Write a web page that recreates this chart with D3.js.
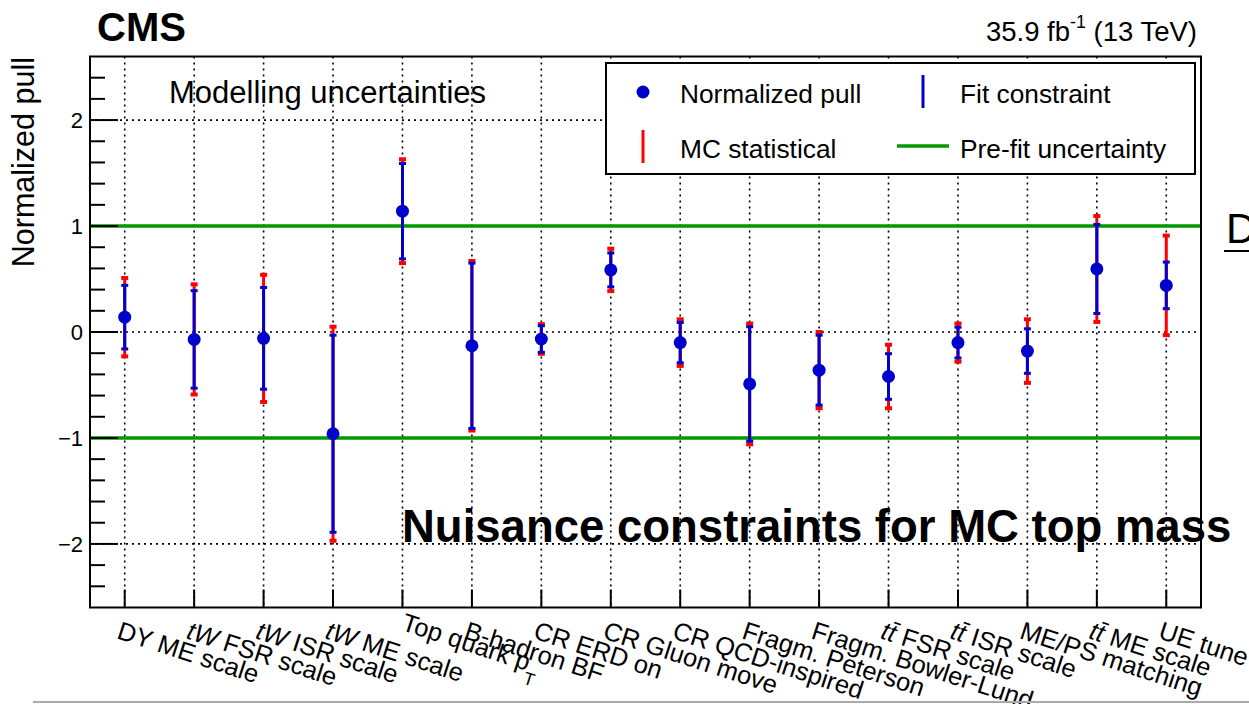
<!DOCTYPE html>
<html>
<head>
<meta charset="utf-8">
<script src="https://cdn.jsdelivr.net/npm/d3@7"></script>
<style>
  html, body { margin: 0; padding: 0; background: #fff; }
  svg { display: block; font-family: "Liberation Sans", Arial, Helvetica, sans-serif; }
</style>
</head>
<body>
<svg id="chart" width="1249" height="704"></svg>
<script>
// ---- data ----
const categories = [
  "DY ME scale", "<i>tW</i> FSR scale", "<i>tW</i> ISR scale", "<i>tW</i> ME scale",
  "Top quark p<sub>T</sub>", "B-hadron BF", "CR ERD on", "CR Gluon move",
  "CR QCD-inspired", "Fragm. Peterson", "Fragm. Bowler-Lund", "<i>tt\u0304</i> FSR scale",
  "<i>tt\u0304</i> ISR scale", "ME/PS matching", "<i>tt\u0304</i> ME scale", "UE tune"
];
const pull          = [0.14, -0.07, -0.06, -0.96, 1.14, -0.13, -0.066, 0.586, -0.10, -0.49, -0.36, -0.42, -0.10, -0.18, 0.595, 0.44];
const fitConstraint = [0.30, 0.46, 0.48, 0.93, 0.45, 0.78, 0.125, 0.16, 0.19, 0.54, 0.33, 0.215, 0.145, 0.21, 0.42, 0.22];
const mcStatTotal   = [0.37, 0.52, 0.60, 1.01, 0.49, 0.80, 0.14, 0.20, 0.22, 0.57, 0.36, 0.30, 0.18, 0.30, 0.50, 0.47];
const preFit = [-1, 1];
const yTicks = [-2, -1, 0, 1, 2];
const yTickLabels = ["\u22122", "\u22121", "0", "1", "2"];
const legendItems = ["Normalized pull", "Fit constraint", "MC statistical", "Pre-fit uncertainty"];

// ---- layout ----
const svg = d3.select("#chart");
const L = 90, R = 1201, T = 56.5, B = 607.5;
const BLUE = "#0000cc", RED = "#ff0000", GREEN = "#009900";

const x = d3.scaleBand().domain(d3.range(categories.length)).range([L, R]).padding(0);
const cx = i => x(i) + x.bandwidth() / 2;
const y = d3.scaleLinear().domain([-2.6, 2.6]).range([B, T]);

// grid
const grid = svg.append("g");
grid.selectAll("line.vg").data(d3.range(categories.length)).join("line")
  .attr("x1", d => cx(d)).attr("x2", d => cx(d)).attr("y1", T).attr("y2", B)
  .attr("stroke", "#000").attr("stroke-width", 1.6).attr("stroke-dasharray", "2,4");
grid.selectAll("line.hg").data(yTicks).join("line")
  .attr("x1", L).attr("x2", R).attr("y1", d => y(d)).attr("y2", d => y(d))
  .attr("stroke", "#000").attr("stroke-width", 1.6).attr("stroke-dasharray", "2,4");

// pre-fit lines
svg.append("g").selectAll("line").data(preFit).join("line")
  .attr("x1", L).attr("x2", R).attr("y1", d => y(d)).attr("y2", d => y(d))
  .attr("stroke", GREEN).attr("stroke-width", 3.5);

// axes (ticks inward)
const yMinor = d3.range(-26, 27, 2).map(v => v / 10).filter(v => Math.abs(v) < 2.6 && Math.abs(v - Math.round(v)) > 1e-6);
const ax = svg.append("g");
ax.selectAll("line.ymaj").data(yTicks).join("line")
  .attr("x1", L).attr("x2", L + 28).attr("y1", d => y(d)).attr("y2", d => y(d))
  .attr("stroke", "#000").attr("stroke-width", 2);
ax.selectAll("line.ymin").data(yMinor).join("line")
  .attr("x1", L).attr("x2", L + 15).attr("y1", d => y(d)).attr("y2", d => y(d))
  .attr("stroke", "#000").attr("stroke-width", 2);
ax.selectAll("line.xt").data(d3.range(categories.length)).join("line")
  .attr("x1", d => cx(d)).attr("x2", d => cx(d)).attr("y1", B).attr("y2", B - 18)
  .attr("stroke", "#000").attr("stroke-width", 2);
ax.selectAll("text.yl").data(yTicks).join("text")
  .attr("x", 83).attr("y", d => y(d) + 8).attr("text-anchor", "end")
  .attr("font-size", 22).text((d, i) => yTickLabels[i]);

// x labels with simple markup
function addRich(sel, s) {
  const re = /<(i|sub)>(.*?)<\/\1>/g;
  let last = 0, m;
  while ((m = re.exec(s)) !== null) {
    if (m.index > last) sel.append("tspan").text(s.slice(last, m.index));
    if (m[1] === "i") sel.append("tspan").attr("font-style", "italic").text(m[2]);
    else sel.append("tspan").attr("font-size", "0.7em").attr("dy", "0.75em").attr("dx", "-0.05em").text(m[2]);
    last = re.lastIndex;
  }
  if (last < s.length) sel.append("tspan").text(s.slice(last));
}
const xl = svg.append("g").attr("font-size", 25.5);
categories.forEach((c, i) => {
  const hasSub = c.indexOf("<sub>") >= 0;
  const g = xl.append("g").attr("transform", `translate(${cx(i) - 9},638) rotate(18)` + (hasSub ? " translate(4,-10)" : ""));
  const t = g.append("text").attr("x", 0).attr("y", 0);
  addRich(t, c);
});

// data marks
const marks = svg.append("g");
const idx = d3.range(categories.length);
marks.selectAll("line.red").data(idx).join("line")
  .attr("x1", cx).attr("x2", cx)
  .attr("y1", i => y(pull[i] + mcStatTotal[i])).attr("y2", i => y(pull[i] - mcStatTotal[i]))
  .attr("stroke", RED).attr("stroke-width", 3);
[1, -1].forEach(s => {
  marks.selectAll("rect.rc" + s).data(idx).join("rect")
    .attr("x", i => cx(i) - 3.5).attr("width", 7)
    .attr("y", i => y(pull[i] + s * mcStatTotal[i]) - 2).attr("height", 4).attr("fill", RED);
});
marks.selectAll("line.blue").data(idx).join("line")
  .attr("x1", cx).attr("x2", cx)
  .attr("y1", i => y(pull[i] + fitConstraint[i])).attr("y2", i => y(pull[i] - fitConstraint[i]))
  .attr("stroke", BLUE).attr("stroke-width", 3);
[1, -1].forEach(s => {
  marks.selectAll("rect.bc" + s).data(idx).join("rect")
    .attr("x", i => cx(i) - 3.5).attr("width", 7)
    .attr("y", i => y(pull[i] + s * fitConstraint[i]) - 1.5).attr("height", 3).attr("fill", BLUE);
});
marks.selectAll("circle").data(idx).join("circle")
  .attr("cx", cx).attr("cy", i => y(pull[i])).attr("r", 6.5).attr("fill", BLUE);

// frame
svg.append("rect").attr("x", L).attr("y", T).attr("width", R - L).attr("height", B - T)
  .attr("fill", "none").attr("stroke", "#000").attr("stroke-width", 2);

// legend
const lg = svg.append("g");
lg.append("rect").attr("x", 606).attr("y", 63).attr("width", 589).attr("height", 111)
  .attr("fill", "#fff").attr("stroke", "#000").attr("stroke-width", 2);
lg.append("circle").attr("cx", 643).attr("cy", 92).attr("r", 6.5).attr("fill", BLUE);
lg.append("line").attr("x1", 923).attr("x2", 923).attr("y1", 75).attr("y2", 108).attr("stroke", BLUE).attr("stroke-width", 3);
lg.append("line").attr("x1", 643).attr("x2", 643).attr("y1", 130).attr("y2", 163).attr("stroke", RED).attr("stroke-width", 3);
lg.append("line").attr("x1", 897).attr("x2", 949).attr("y1", 146).attr("y2", 146).attr("stroke", GREEN).attr("stroke-width", 3.5);
const lpos = [[680, 103], [960, 103], [680, 158], [960, 158]];
legendItems.forEach((t, i) => {
  lg.append("text").attr("x", lpos[i][0]).attr("y", lpos[i][1]).attr("font-size", 26.3).text(t);
});

// titles and annotations
svg.append("text").attr("x", 97).attr("y", 41).attr("font-size", 40).attr("font-weight", "bold").text("CMS");
const lumi = svg.append("text").attr("x", 1197).attr("y", 41).attr("font-size", 27.5).attr("text-anchor", "end");
lumi.append("tspan").text("35.9 fb");
lumi.append("tspan").attr("font-size", "0.65em").attr("dy", "-0.75em").text("-1");
lumi.append("tspan").attr("dy", "0.49em").text(" (13 TeV)");
svg.append("text").attr("x", 169).attr("y", 103).attr("font-size", 31).text("Modelling uncertainties");
svg.append("text").attr("transform", "translate(34,57) rotate(-90)").attr("text-anchor", "end")
  .attr("font-size", 30.5).text("Normalized pull");
svg.append("text").attr("x", 402).attr("y", 542).attr("font-size", 45.5).attr("font-weight", "bold")
  .text("Nuisance constraints for MC top mass");

// clipped letter at right edge
svg.append("text").attr("x", 1226).attr("y", 243).attr("font-size", 42).text("D");
svg.append("line").attr("x1", 1224).attr("x2", 1249).attr("y1", 251).attr("y2", 251).attr("stroke", "#000").attr("stroke-width", 2);

// bottom gray rule
svg.append("line").attr("x1", 33).attr("x2", 1249).attr("y1", 702).attr("y2", 702).attr("stroke", "#aaaaaa").attr("stroke-width", 2);
</script>
</body>
</html>
